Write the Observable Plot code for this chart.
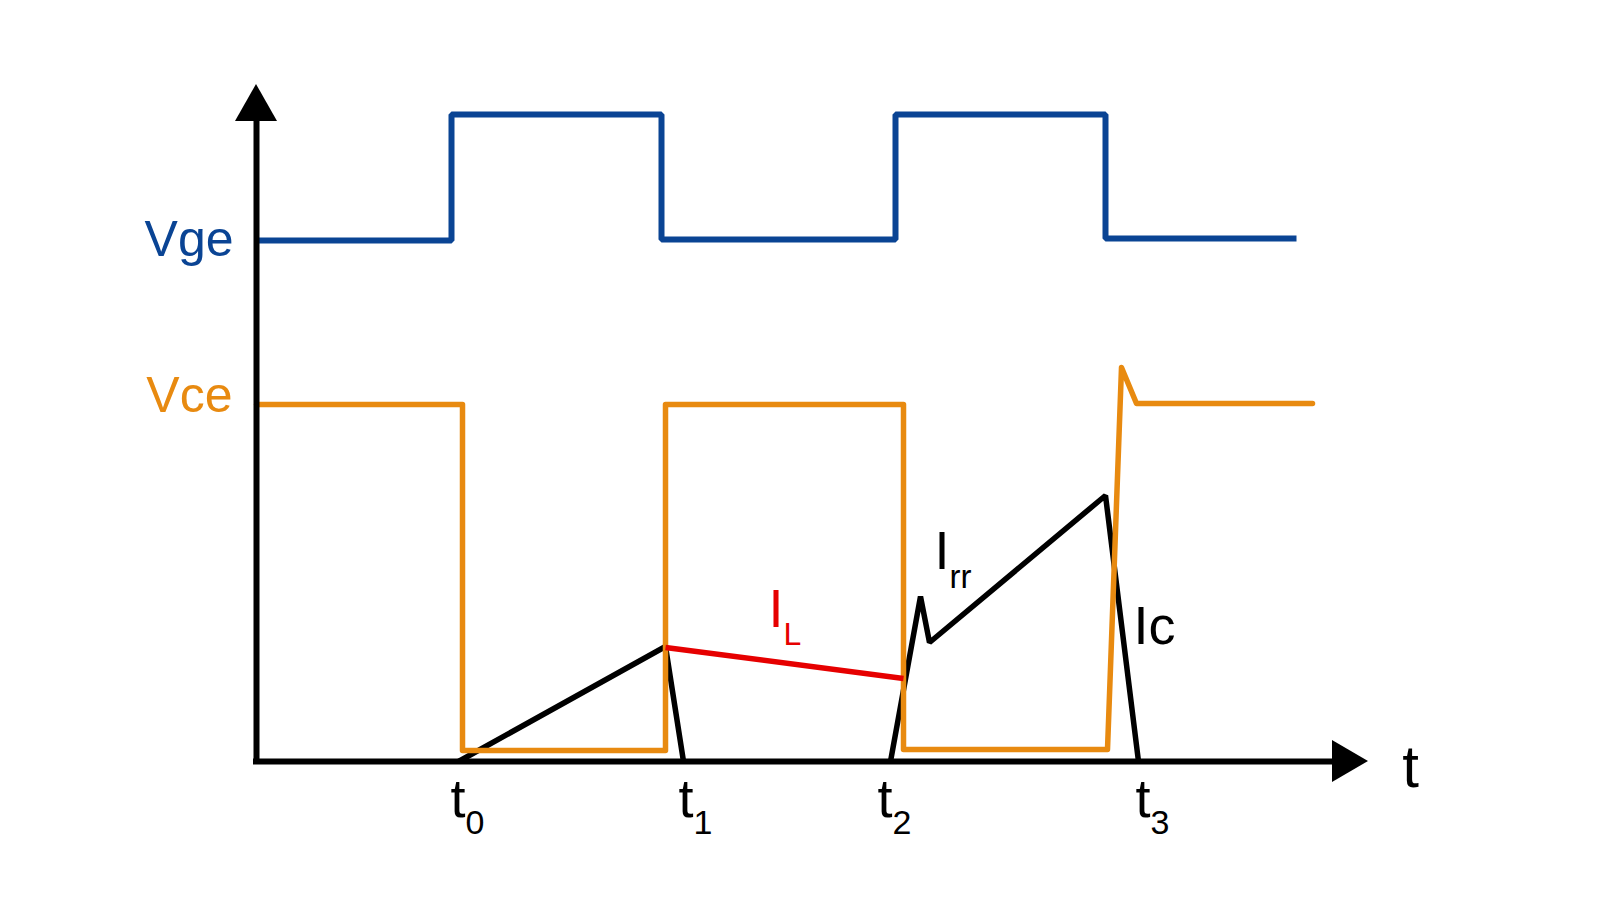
<!DOCTYPE html>
<html>
<head>
<meta charset="utf-8">
<script src="https://cdn.jsdelivr.net/npm/d3@7"></script>
<script src="https://cdn.jsdelivr.net/npm/@observablehq/plot@0.6"></script>
<style>
  html, body { margin: 0; padding: 0; background: #fff; }
  #chart svg { display: block; }
</style>
</head>
<body>
<div id="chart"></div>
<script>
// Time axis and signal levels in arbitrary schematic units
const vgeT  = [0, 19.5, 19.5, 40.5, 40.5, 63.9, 63.9, 84.9, 84.9, 104.0];
const vgeV  = [52.1, 52.1, 64.7, 64.7, 52.2, 52.2, 64.7, 64.7, 52.3, 52.3];

const vceT  = [0, 20.6, 20.6, 40.9, 40.9, 64.7, 64.7, 85.1, 86.5, 88.0, 105.6];
const vceV  = [35.7, 35.7, 1.1, 1.1, 35.7, 35.7, 1.2, 1.2, 39.4, 35.8, 35.8];

const icOnT = [20.2, 40.9, 42.7];
const icOnV = [0, 11.5, 0];

const ilT   = [40.9, 64.7];
const ilV   = [11.4, 8.3];

const ic2T  = [63.4, 66.4, 67.3, 84.9, 88.2];
const ic2V  = [0, 16.5, 11.9, 26.6, 0];

const tickT     = [20.15, 42.95, 62.85, 88.65];
const tickMain  = ["t", "t", "t", "t"];
const tickSub   = ["0", "1", "2", "3"];

const axisLabel = "t";
const vgeLabel  = "Vge";
const vceLabel  = "Vce";

// curve annotations: main text, subscript, anchor (time, level)
const ilLabel  = {main: "I",  sub: "L",  t: 51.2, v: 13.5};
const irrLabel = {main: "I",  sub: "rr", t: 67.8, v: 19.3};
const icLabel  = {main: "Ic", sub: "",   t: 87.7, v: 11.8};

// axis extents
const xAxisEnd = 107.6, xAxisTip = 111.2;
const yAxisEnd = 64.0,  yAxisTip = 67.7;
const headHalf = 2.1;

const pts = (T, V) => T.map((t, i) => ({t, v: V[i]}));

const FONT = "'Liberation Sans', Arial, Helvetica, sans-serif";
const BLUE = "#0a4494", ORANGE = "#e88a10", RED = "#e60000", BLACK = "#000";

const chart = Plot.plot({
  width: 1600,
  height: 900,
  style: {background: "#fff", overflow: "visible"},
  x: {domain: [0, 112], range: [256, 1376], axis: null},
  y: {domain: [0, 68], range: [761, 81], axis: null},
  marks: [
    // Vge
    Plot.line(pts(vgeT, vgeV), {x: "t", y: "v", stroke: BLUE, strokeWidth: 6,
      strokeLinejoin: "miter", strokeLinecap: "butt"}),
    // Ic
    Plot.line(pts(icOnT, icOnV), {x: "t", y: "v", stroke: BLACK, strokeWidth: 5.5,
      strokeLinejoin: "miter", strokeLinecap: "butt"}),
    Plot.line(pts(ic2T, ic2V), {x: "t", y: "v", stroke: BLACK, strokeWidth: 5.5,
      strokeLinejoin: "miter", strokeLinecap: "butt"}),
    // Vce
    Plot.line(pts(vceT, vceV), {x: "t", y: "v", stroke: ORANGE, strokeWidth: 5.5,
      strokeLinejoin: "round", strokeLinecap: "round"}),
    // IL
    Plot.line(pts(ilT, ilV), {x: "t", y: "v", stroke: RED, strokeWidth: 5.5,
      strokeLinecap: "butt"}),

    // axes
    Plot.ruleY([{v: 0, a: -0.3, b: xAxisEnd}], {y: "v", x1: "a", x2: "b", stroke: BLACK, strokeWidth: 6}),
    Plot.ruleX([{t: 0, a: -0.3, b: yAxisEnd}], {x: "t", y1: "a", y2: "b", stroke: BLACK, strokeWidth: 6}),
    Plot.areaY([{t: xAxisEnd, lo: -headHalf, hi: headHalf}, {t: xAxisTip, lo: 0, hi: 0}],
      {x: "t", y1: "lo", y2: "hi", fill: BLACK}),
    Plot.areaX([{v: yAxisEnd, lo: -headHalf, hi: headHalf}, {v: yAxisTip, lo: 0, hi: 0}],
      {y: "v", x1: "lo", x2: "hi", fill: BLACK}),

    // signal labels
    Plot.text([{t: 0, v: vgeV[0], s: vgeLabel}], {x: "t", y: "v", text: "s",
      textAnchor: "end", lineAnchor: "middle", dx: -23, dy: -1, fill: BLUE, fontSize: 50, fontFamily: FONT}),
    Plot.text([{t: 0, v: vceV[0], s: vceLabel}], {x: "t", y: "v", text: "s",
      textAnchor: "end", lineAnchor: "middle", dx: -24, dy: -9, fill: ORANGE, fontSize: 50, fontFamily: FONT}),

    // tick labels t0..t3
    Plot.text(tickT.map((t, i) => ({t, v: 0, s: tickMain[i]})), {x: "t", y: "v", text: "s",
      textAnchor: "middle", lineAnchor: "bottom", dy: 55, fill: BLACK, fontSize: 54, fontFamily: FONT}),
    Plot.text(tickT.map((t, i) => ({t, v: 0, s: tickSub[i]})), {x: "t", y: "v", text: "s",
      textAnchor: "start", lineAnchor: "bottom", dx: 7.5, dy: 72, fill: BLACK, fontSize: 34, fontFamily: FONT}),

    // axis label
    Plot.text([{t: xAxisTip, v: 0, s: axisLabel}], {x: "t", y: "v", text: "s",
      textAnchor: "middle", lineAnchor: "bottom", dx: 42, dy: 25, fill: BLACK, fontSize: 60, fontFamily: FONT}),

    // curve labels
    Plot.text([ilLabel], {x: "t", y: "v", text: "main", textAnchor: "start", lineAnchor: "bottom",
      fill: RED, fontSize: 54, fontFamily: FONT}),
    Plot.text([ilLabel], {x: "t", y: "v", text: "sub", textAnchor: "start", lineAnchor: "bottom",
      dx: 15, dy: 18, fill: RED, fontSize: 32, fontFamily: FONT}),
    Plot.text([irrLabel], {x: "t", y: "v", text: "main", textAnchor: "start", lineAnchor: "bottom",
      fill: BLACK, fontSize: 54, fontFamily: FONT}),
    Plot.text([irrLabel], {x: "t", y: "v", text: "sub", textAnchor: "start", lineAnchor: "bottom",
      dx: 15, dy: 19, fill: BLACK, fontSize: 33, fontFamily: FONT}),
    Plot.text([icLabel], {x: "t", y: "v", text: "main", textAnchor: "start", lineAnchor: "bottom",
      fill: BLACK, fontSize: 54, fontFamily: FONT})
  ]
});

document.getElementById("chart").appendChild(chart);
</script>
</body>
</html>
